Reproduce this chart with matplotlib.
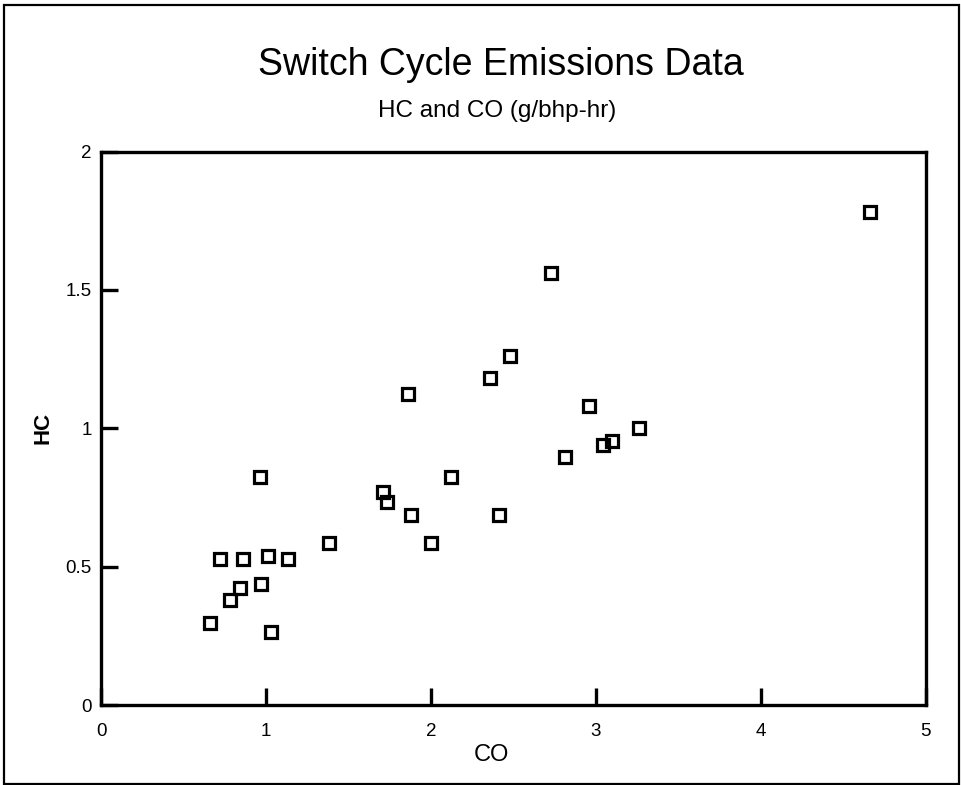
import matplotlib
matplotlib.use('Agg')
from matplotlib import pyplot as plt
from matplotlib.patches import Rectangle

plt.rcParams['font.family'] = ['Liberation Sans', 'DejaVu Sans']

# CO vs HC (g/bhp-hr)
co = [4.66, 2.73, 2.48, 2.36, 1.86, 2.96, 3.26, 3.10, 3.04, 2.81,
      0.96, 2.12, 1.71, 1.73, 1.88, 2.41, 1.38, 2.00,
      0.72, 0.86, 1.01, 1.13, 0.84, 0.97, 0.78, 0.66, 1.03]
hc = [1.78, 1.56, 1.26, 1.18, 1.125, 1.08, 1.00, 0.954, 0.941, 0.896,
      0.824, 0.824, 0.770, 0.734, 0.686, 0.686, 0.584, 0.584,
      0.527, 0.527, 0.539, 0.527, 0.424, 0.436, 0.379, 0.297, 0.262]

x_ticks = [0, 1, 2, 3, 4, 5]
y_ticks = [0, 0.5, 1, 1.5, 2]
y_labels = ['0', '0.5', '1', '1.5', '2']

fig = plt.figure(figsize=(9.61, 7.85), dpi=100)
ax = fig.add_axes([0.1056, 0.1019, 0.8575, 0.7051])

ax.plot(co, hc, linestyle='none', marker='s', markersize=8.5,
        markerfacecolor='none', markeredgecolor='black', markeredgewidth=2.3)

ax.set_xlim(0, 5)
ax.set_ylim(0, 2)
ax.set_xticks(x_ticks)
ax.set_xticklabels([str(t) for t in x_ticks])
ax.set_yticks(y_ticks)
ax.set_yticklabels(y_labels)
ax.tick_params(direction='in', length=12.5, width=2.4, labelsize=13.5)
ax.tick_params(axis='x', pad=13)
ax.tick_params(axis='y', pad=7)
for s in ax.spines.values():
    s.set_linewidth(2.4)

# axis titles placed where the original has them
fig.text(491.5 / 961, 1 - 755 / 785, 'CO', ha='center', va='center', fontsize=17)
fig.text(43 / 961, 1 - 428 / 785, 'HC', ha='center', va='center', rotation=90,
         fontsize=16, fontweight='bold')

fig.text(0.521, 0.904, 'Switch Cycle Emissions Data', ha='center', va='baseline', fontsize=27)
fig.text(0.517, 0.851, 'HC and CO (g/bhp-hr)', ha='center', va='baseline', fontsize=17.5)

# frame round the whole picture
fig.patches.append(Rectangle((4 / 961, 1 / 785), 955 / 961, 779 / 785, transform=fig.transFigure,
                             fill=False, edgecolor='black', linewidth=1.6))

plt.savefig('out.png', dpi=100)
plt.close(fig)
